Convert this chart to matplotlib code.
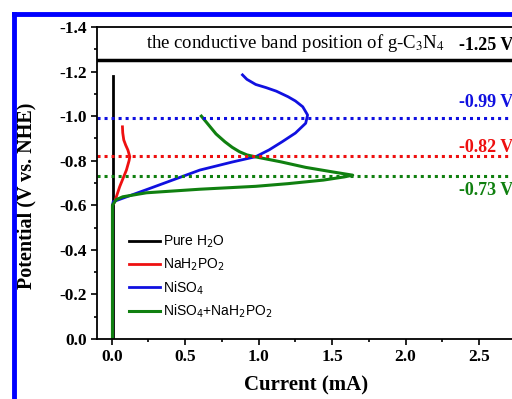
import numpy as np
import matplotlib.pyplot as plt
from matplotlib.lines import Line2D
from matplotlib.ticker import MultipleLocator

# potential (V vs NHE) vs current (mA)
h2o_i = [0.007, 0.007]
h2o_v = [0.0, -1.18]

nah_i = [0.005, 0.005, 0.02, 0.054, 0.10, 0.118, 0.123, 0.11, 0.095, 0.082, 0.075, 0.073]
nah_v = [0.0, -0.60, -0.615, -0.683, -0.758, -0.80, -0.818, -0.848, -0.87, -0.893, -0.925, -0.952]

ni_i = [0.005, 0.005, 0.01, 0.236, 0.6, 0.82, 0.98, 1.07, 1.16, 1.25, 1.32, 1.333,
        1.30, 1.25, 1.20, 1.12, 1.05, 0.98, 0.92, 0.89]
ni_v = [0.0, -0.60, -0.616, -0.67, -0.758, -0.794, -0.818, -0.848, -0.885, -0.924,
        -0.968, -1.005, -1.042, -1.068, -1.087, -1.112, -1.128, -1.142, -1.165, -1.185]

mix_i = [0.005, 0.005, 0.03, 0.075, 0.236, 0.6, 0.98, 1.2, 1.44, 1.58, 1.64,
         1.5, 1.32, 1.15, 0.98, 0.92, 0.87, 0.82, 0.77, 0.71, 0.66, 0.61]
mix_v = [0.0, -0.60, -0.625, -0.638, -0.656, -0.672, -0.685, -0.697, -0.713, -0.727, -0.735,
         -0.75, -0.77, -0.795, -0.817, -0.826, -0.84, -0.86, -0.885, -0.92, -0.96, -1.0]

levels = [-0.99, -0.82, -0.73]
level_colors = ['#1010e0', '#ee1010', '#108010']
level_labels = ['-0.99 V', '-0.82 V', '-0.73 V']
cb_level = -1.25

plt.rcParams['font.family'] = ['Liberation Serif', 'DejaVu Serif']

fig = plt.figure(figsize=(5.12, 3.99), dpi=100)
ax = fig.add_axes([0.1895, 0.1504, 0.861, 0.782])

ax.plot(h2o_i, h2o_v, color='black', lw=2, label='Pure H$_2$O')
ax.plot(nah_i, nah_v, color='#ee1010', lw=2, label='NaH$_2$PO$_2$')
ax.plot(ni_i, ni_v, color='#1010e0', lw=2, label='NiSO$_4$')
ax.plot(mix_i, mix_v, color='#108010', lw=2.2, label='NiSO$_4$+NaH$_2$PO$_2$')

for lv, c in zip(levels, level_colors):
    ax.axhline(lv, color=c, lw=2.2, ls=(0, (1, 1.3)))
ax.axhline(cb_level, color='black', lw=2.5)

ax.text(1.25, -1.327, 'the conductive band position of g-C$_3$N$_4$', fontsize=13.5,
        ha='center', va='center', math_fontfamily='stix')
ax.text(2.36, -1.315, '-1.25 V', fontsize=13, fontweight='bold', ha='left', va='center')

label_y = [-1.06, -0.857, -0.668]
for y, c, t in zip(label_y, level_colors, level_labels):
    ax.text(2.73, y, t, color=c, fontsize=13, fontweight='bold', ha='right', va='center')

ax.set_xlim(-0.1, 2.9)
ax.set_ylim(0.0, -1.4)
ax.xaxis.set_major_locator(MultipleLocator(0.5))
ax.xaxis.set_minor_locator(MultipleLocator(0.25))
ax.yaxis.set_major_locator(MultipleLocator(0.2))
ax.yaxis.set_minor_locator(MultipleLocator(0.1))
ax.tick_params(which='both', direction='out', width=1.2)
ax.tick_params(which='major', length=4, labelsize=12.5)
ax.tick_params(which='minor', length=2.5)
ax.set_xticks(ax.get_xticks())
ax.set_yticks(ax.get_yticks())
ax.set_xticklabels(['%.1f' % v for v in ax.get_xticks()], fontweight='bold')
ax.set_yticklabels(['%.1f' % v for v in ax.get_yticks()], fontweight='bold')
ax.set_xlim(-0.1, 2.9)
ax.set_ylim(0.0, -1.4)
for s in ax.spines.values():
    s.set_linewidth(1.3)

ax.set_xlabel('Current (mA)', fontsize=15, fontweight='bold')
ax.xaxis.set_label_coords((306 - 97) / 441, -0.118)
ax.set_ylabel('Potential (V vs. NHE)', fontsize=14.5, fontweight='bold')
ax.yaxis.set_label_coords((36 - 97) / 441, 0.46)

leg = ax.legend(loc='lower left', bbox_to_anchor=(0.045, 0.02), frameon=False,
                prop={'family': 'Liberation Sans', 'size': 10}, handlelength=2.2,
                handletextpad=0.2, labelspacing=0.45)

# blue frame around the figure (only top and left visible)
fig.add_artist(Line2D([0.027, 1.0], [0.966, 0.966], transform=fig.transFigure,
                      color='#0000ff', lw=3.5))
fig.add_artist(Line2D([0.027, 0.027], [0.0, 0.966], transform=fig.transFigure,
                      color='#0000ff', lw=3.5))

fig.savefig('out.png', dpi=100)
